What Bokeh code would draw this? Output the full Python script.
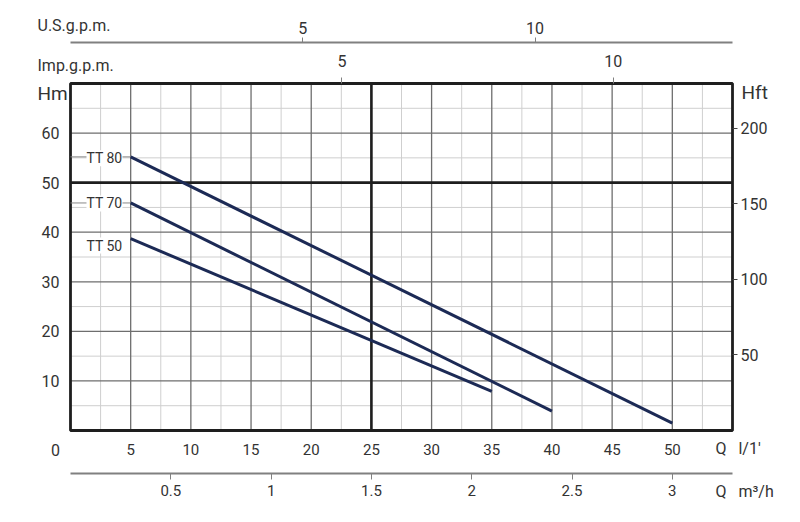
from bokeh.plotting import figure
from bokeh.models import LinearAxis, Range1d, FixedTicker, Label
from bokeh.embed import file_html
from bokeh.resources import INLINE

# ---------------- data ----------------
flow_ticks = [5, 10, 15, 20, 25, 30, 35, 40, 45, 50]          # l/min
flow_minor = [2.5, 7.5, 12.5, 17.5, 22.5, 27.5, 32.5, 37.5, 42.5, 47.5, 52.5]
head_ticks_m = [10, 20, 30, 40, 50, 60]
head_minor_m = [5, 15, 25, 35, 45, 55, 65]
head_ticks_ft = [50, 100, 150, 200]
m3h_ticks = [0.5, 1, 1.5, 2, 2.5, 3]
imp_ticks = [5, 10]
us_ticks = [5, 10]
bold_flow = [25]
bold_head = [50]

models = ["TT 80", "TT 70", "TT 50"]
tt80_q = [5, 50]
tt80_h = [55.2, 1.5]
tt70_q = [5, 40]
tt70_h = [45.9, 3.9]
tt50_q = [5, 35]
tt50_h = [38.7, 7.9]
label_h = [54.9, 45.8, 37.3]

Q_MAX = 55.0     # l/min
H_MAX = 70.0     # m
FT = 0.3048
M3H = 0.06       # m3/h per l/min
IMP_LPM = 4.51   # l/min per Imp.g.p.m. as placed on the chart
US_LPM = 3.86    # l/min per U.S.g.p.m. as placed on the chart

# ---------------- layout (pixels) ----------------
W, H = 798, 520
X0, X1, Y0, Y1 = 70, 732, 83, 430      # chart box on the canvas
PXQ = (X1 - X0) / Q_MAX
PXH = (Y1 - Y0) / H_MAX

def qx(px):
    return (px - X0) / PXQ

def hy(py):
    return (Y1 - py) / PXH

FONT = "Roboto"
TXT = "#333333"
CURVE = "#1c2a55"
AXG = "#808080"
NB = "\u00a0"

xs, xe = qx(0), qx(W)
ys, ye = hy(H), hy(0)

p = figure(width=W, height=H, output_backend="svg", toolbar_location=None,
           x_range=Range1d(xs, xe), y_range=Range1d(ys, ye),
           min_border=0)
p.background_fill_color = "white"
p.border_fill_color = "white"
p.outline_line_color = None
p.xgrid.visible = False
p.ygrid.visible = False

p.extra_x_ranges = {"m3h": Range1d(xs * M3H, xe * M3H),
                    "imp": Range1d(xs / IMP_LPM, xe / IMP_LPM),
                    "us": Range1d(xs / US_LPM, xe / US_LPM)}
p.extra_y_ranges = {"ft": Range1d(ys / FT, ye / FT)}

def style(ax, size="15px"):
    ax.major_label_text_font = FONT
    ax.major_label_text_font_size = size
    ax.major_label_text_color = TXT
    ax.minor_tick_line_color = None
    ax.major_tick_in = 0

# bottom l/min axis (on the chart's bottom edge)
xa = p.xaxis[0]
xa.fixed_location = 0
xa.ticker = FixedTicker(ticks=flow_ticks)
xa.axis_line_color = None
xa.major_tick_line_color = None
xa.major_tick_out = 0
xa.major_label_standoff = 13
style(xa)

# bottom m3/h axis
ma = LinearAxis(x_range_name="m3h", ticker=FixedTicker(ticks=m3h_ticks),
                fixed_location=hy(473), bounds=(0, Q_MAX * M3H))
ma.axis_line_color = AXG
ma.axis_line_width = 2
ma.major_tick_line_color = AXG
ma.major_tick_out = 6
ma.major_label_standoff = 5
style(ma)
p.add_layout(ma, "below")

# left Hm axis
ya = p.yaxis[0]
ya.fixed_location = 0
ya.ticker = FixedTicker(ticks=head_ticks_m)
ya.axis_line_color = None
ya.major_tick_line_color = None
ya.major_tick_out = 0
ya.major_label_standoff = 11
style(ya, "16px")

# right Hft axis
fa = LinearAxis(y_range_name="ft", ticker=FixedTicker(ticks=head_ticks_ft),
                fixed_location=Q_MAX)
fa.axis_line_color = None
fa.major_tick_line_color = "#444444"
fa.major_tick_out = 5
fa.major_label_standoff = 3
style(fa, "16px")
p.add_layout(fa, "right")

# top Imp.g.p.m. axis
ia = LinearAxis(x_range_name="imp", ticker=FixedTicker(ticks=imp_ticks),
                fixed_location=H_MAX)
ia.axis_line_color = None
ia.major_tick_line_color = AXG
ia.major_tick_out = 6
ia.major_label_standoff = 11
style(ia, "16px")
p.add_layout(ia, "above")

# top U.S.g.p.m. axis
ua = LinearAxis(x_range_name="us", ticker=FixedTicker(ticks=us_ticks),
                fixed_location=hy(42), bounds=(0, Q_MAX / US_LPM))
ua.axis_line_color = AXG
ua.axis_line_width = 2
ua.major_tick_line_color = AXG
ua.major_tick_out = 5
ua.major_label_standoff = 4
style(ua, "16px")
p.add_layout(ua, "above")

# grid lines (limited to the chart box)
def vlines(ticks, color, width):
    p.segment(x0=ticks, x1=ticks, y0=[0] * len(ticks), y1=[H_MAX] * len(ticks),
              line_color=color, line_width=width)

def hlines(ticks, color, width):
    p.segment(x0=[0] * len(ticks), x1=[Q_MAX] * len(ticks), y0=ticks, y1=ticks,
              line_color=color, line_width=width)

vlines(flow_minor, "#cfcfcf", 1)
hlines(head_minor_m, "#cfcfcf", 1)
vlines(flow_ticks, "#6e6e6e", 1.3)
hlines(head_ticks_m, "#6e6e6e", 1.3)
vlines(bold_flow, "#1e1e1e", 2.6)
hlines(bold_head, "#1e1e1e", 2.6)

# chart box
p.quad(left=[0], right=[Q_MAX], bottom=[0], top=[H_MAX], fill_color=None,
       line_color="#1e1e1e", line_width=2.8)

# leaders for labels
p.segment(x0=[0, 0], x1=[tt80_q[0], tt70_q[0]], y0=[tt80_h[0], tt70_h[0]], y1=[tt80_h[0], tt70_h[0]],
          line_color="#888888", line_width=1)

# curves
for q, h in ((tt80_q, tt80_h), (tt70_q, tt70_h), (tt50_q, tt50_h)):
    p.line(q, h, line_color=CURVE, line_width=3)

for name, yh in zip(models, label_h):
    p.add_layout(Label(x=qx(122), y=yh, text=name, text_align="right", text_baseline="middle",
                       text_font=FONT, text_font_size="14px", text_color=TXT,
                       background_fill_color="white"))

def lab(px, py, t, size="15px", align="left"):
    p.add_layout(Label(x=qx(px), y=hy(py), text=t, text_align=align, text_baseline="middle",
                       text_font=FONT, text_font_size=size, text_color=TXT))

lab(37, 93, "Hm", "19px")
lab(741, 92, "Hft", "19px")
lab(55, 449, "0", "16px", "center")
lab(715, 448, "Q" + NB * 3 + "l/1'", "16px")
lab(715, 491, "Q" + NB * 3 + "m³/h", "16px")
lab(37, 25, "U.S.g.p.m.", "16px")
lab(37, 65, "Imp.g.p.m.", "16px")

open("out.html", "w").write(file_html(p, INLINE))
